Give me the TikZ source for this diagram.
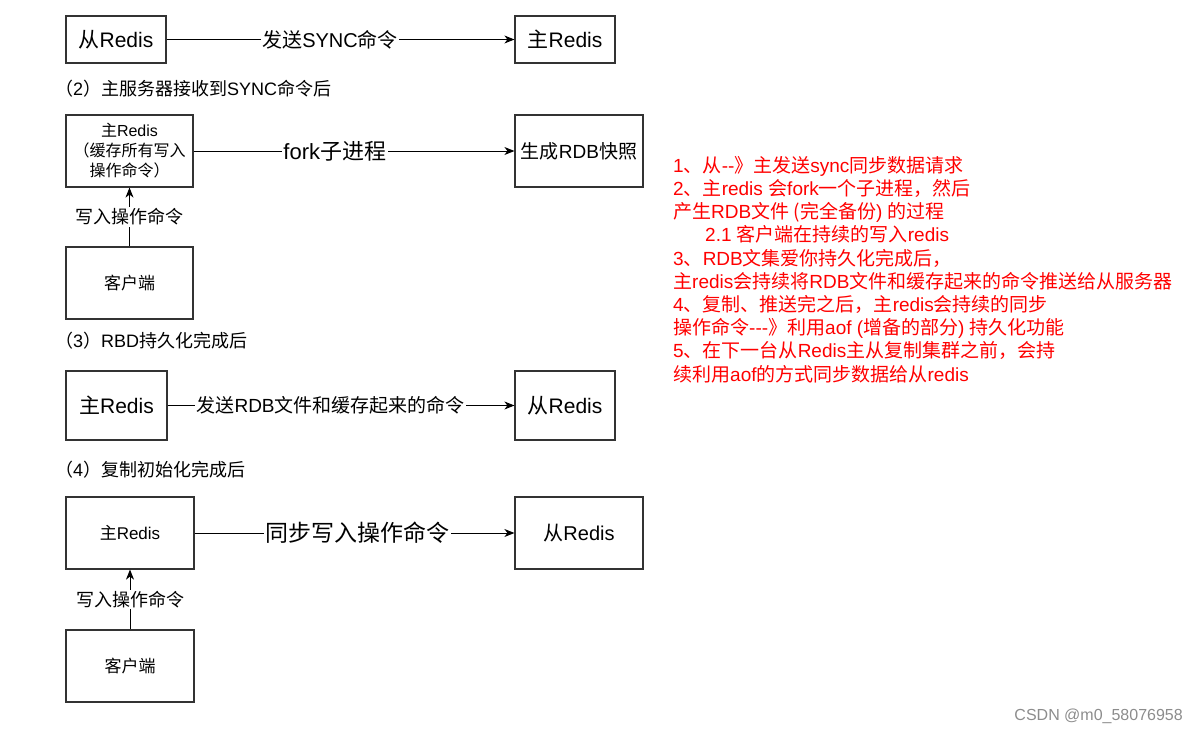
\documentclass[tikz,border=0pt]{standalone}
\usepackage{fontspec}
\usetikzlibrary{arrows.meta}
\setmainfont{Liberation Sans}[Ligatures=TeXOff]
\newfontfamily\cjkfont{Noto Sans CJK SC}
\definecolor{notered}{HTML}{FF0000}
% CJK characters get their own face, the rest stays Liberation Sans
\XeTeXinterchartokenstate=1
\chardef\cjkclass=11
\newcount\cjkcode
\def\setclassrange#1#2#3{\cjkcode=#1
  \loop \XeTeXcharclass\cjkcode=#3 \advance\cjkcode by 1 \ifnum\cjkcode<#2 \repeat}
\setclassrange{"21}{"7F}{0}
\setclassrange{"3000}{"3040}{\cjkclass}
\setclassrange{"4E00}{"A000}{\cjkclass}
\setclassrange{"FF00}{"FFF0}{\cjkclass}
\XeTeXinterchartoks 0 \cjkclass = {\cjkfont}
\XeTeXinterchartoks 4095 \cjkclass = {\cjkfont}
\XeTeXinterchartoks \cjkclass 0 = {\rmfamily}

\tikzset{
  box/.style={draw=black!80, line width=1.2pt, inner sep=0pt, align=center},
  conn/.style={-{Stealth[length=10pt,width=8pt,inset=3pt]}, line width=1pt},
  lbl/.style={fill=white, inner sep=1.5pt},
  head/.style={anchor=west, inner sep=0pt, font=\fontsize{18}{22}\selectfont},
}

\begin{document}
\begin{tikzpicture}[x=1pt, y=-1pt]
  \useasboundingbox (0,0) rectangle (1198,733);
  % (1) slave asks master
  \node[box, minimum width=100pt, minimum height=47pt, font=\fontsize{21}{25}\selectfont]
    (slaveA) at (116,39.5) {从Redis};
  \node[box, minimum width=100pt, minimum height=47pt, font=\fontsize{21}{25}\selectfont]
    (masterA) at (565,39.5) {主Redis};
  \draw[conn] (slaveA) -- node[lbl, pos=0.47, font=\fontsize{20}{24}\selectfont] {发送SYNC命令} (masterA);

  % (2) fork
  \node[head] (headB) at (55,89) {（2）主服务器接收到SYNC命令后};
  \node[box, minimum width=127pt, minimum height=72pt, font=\fontsize{16}{20}\selectfont]
    (masterB) at (129.5,151) {主Redis\\（缓存所有写入\\操作命令）};
  \node[box, minimum width=128pt, minimum height=72pt, font=\fontsize{19}{23}\selectfont]
    (rdbB) at (579,151) {生成RDB快照};
  \node[box, minimum width=127pt, minimum height=72pt, font=\fontsize{17}{20}\selectfont]
    (clientB) at (129.5,283) {客户端};
  \draw[conn] (masterB) -- node[lbl, pos=0.44, font=\fontsize{22}{26}\selectfont] {fork子进程} (rdbB);
  \draw[conn] (clientB) -- node[lbl, font=\fontsize{18}{22}\selectfont] {写入操作命令} (masterB);

  % (3) push rdb
  \node[head] (headC) at (55,341) {（3）RBD持久化完成后};
  \node[box, minimum width=101pt, minimum height=69pt, font=\fontsize{21}{25}\selectfont]
    (masterC) at (116.5,405.5) {主Redis};
  \node[box, minimum width=100pt, minimum height=69pt, font=\fontsize{21}{25}\selectfont]
    (slaveC) at (565,405.5) {从Redis};
  \draw[conn] (masterC) -- node[lbl, pos=0.47, font=\fontsize{19}{23}\selectfont] {发送RDB文件和缓存起来的命令} (slaveC);

  % (4) sync writes
  \node[head] (headD) at (55,470) {（4）复制初始化完成后};
  \node[box, minimum width=128pt, minimum height=72pt, font=\fontsize{17}{20}\selectfont]
    (masterD) at (130,533) {主Redis};
  \node[box, minimum width=128pt, minimum height=72pt, font=\fontsize{20}{24}\selectfont]
    (slaveD) at (579,533) {从Redis};
  \node[box, minimum width=128pt, minimum height=72pt, font=\fontsize{17}{20}\selectfont]
    (clientD) at (130,666) {客户端};
  \draw[conn] (masterD) -- node[lbl, pos=0.51, font=\fontsize{23}{27}\selectfont] {同步写入操作命令} (slaveD);
  \draw[conn] (clientD) -- node[lbl, font=\fontsize{18}{22}\selectfont] {写入操作命令} (masterD);

  % notes
  \node[anchor=north west, inner sep=0pt, align=left, text=notered, font=\fontsize{19}{23.2}\selectfont]
    (notes) at (673,156) {1、从--》主发送sync同步数据请求\\
    2、主redis 会fork一个子进程，然后\\
    产生RDB文件 (完全备份) 的过程\\
    \hspace*{32pt}2.1 客户端在持续的写入redis\\
    3、RDB文集爱你持久化完成后，\\
    主redis会持续将RDB文件和缓存起来的命令推送给从服务器\\
    4、复制、推送完之后，主redis会持续的同步\\
    操作命令---》利用aof (增备的部分) 持久化功能\\
    5、在下一台从Redis主从复制集群之前，会持\\
    续利用aof的方式同步数据给从redis};
  \node[anchor=east, inner sep=0pt, text=black!45, font=\fontsize{16}{19}\selectfont]
    (mark) at (1183,716) {CSDN @m0\_58076958};
\end{tikzpicture}
\end{document}
